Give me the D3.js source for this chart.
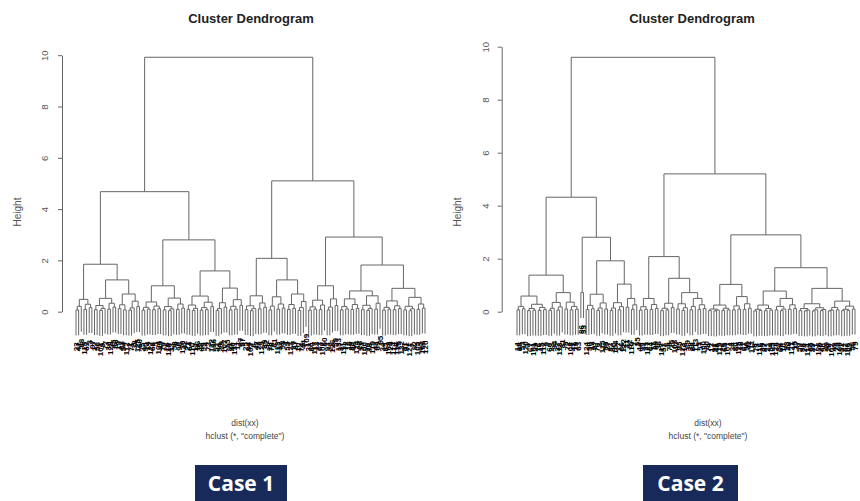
<!DOCTYPE html>
<html><head><meta charset="utf-8">
<script src="https://cdn.jsdelivr.net/npm/d3@7"></script>
<style>
body{margin:0;background:#fff;}
svg{display:block;font-family:"Liberation Sans",Arial,sans-serif;}
</style></head><body>
<svg id="chart" width="860" height="501"></svg>
<script>
// ---------- DATA (node = [mergeHeight, left, right], leaf = observation label) ----------
// Case 1
const case1A1 = [1.85,
  [0.48,[0.21,[0.07,23,41],88],[0.29,[0.09,115,62],[0.16,3,97]]],
  [1.24,
    [0.52,[0.24,[0.08,12,56],[0.13,[0.05,101,9],77]],[0.33,[0.1,30,128],[0.18,45,66]]],
    [0.69,[0.27,[0.12,19,83],[0.07,54,112]],[0.41,[0.15,[0.06,2,71],38],[0.2,125,60]]]]];
const case1A2 = [2.8,
  [1.01,
    [0.38,[0.17,[0.06,35,90],[0.1,14,127]],[0.22,[0.08,68,5],[0.12,104,49]]],
    [0.53,[0.2,[0.07,79,26],[0.11,[0.04,118,33],58]],[0.3,[0.09,8,96],[0.14,130,42]]]],
  [1.59,
    [0.61,[0.26,[0.09,21,64],[0.13,[0.05,110,17],86]],[0.37,[0.16,[0.06,48,99],[0.08,4,73]],[0.2,122,36]]],
    [0.92,[0.35,[0.12,[0.05,52,94],29],[0.18,107,15]],[0.47,[0.21,[0.07,81,40],[0.1,131,11]],[0.25,67,57]]]]];
const case1B1 = [2.08,
  [0.62,[0.23,[0.08,25,84],[0.12,[0.04,103,6],47]],[0.34,[0.11,70,129],[0.17,39,92]]],
  [1.24,
    [0.58,[0.22,[0.07,18,76],61],[0.3,[0.1,113,32],[0.14,98,1]]],
    [0.69,[0.28,[0.09,55,123],[0.13,27,87]],[0.4,[0.16,[0.05,10,74],44],109]]]];
const case1B2 = [2.91,
  [1.01,
    [0.45,[0.19,[0.06,31,80],[0.1,117,13]],[0.26,[0.08,63,102],50]],
    [0.5,[0.18,[0.07,93,22],126],[0.24,59,133]]],
  [1.82,
    [0.81,
      [0.5,[0.2,[0.07,37,111],[0.11,72,16]],[0.28,[0.09,89,46],[0.13,124,28]]],
      [0.62,[0.25,[0.08,53,100],[0.12,[0.05,20,78],119]],[0.33,[0.1,43,69],95]]],
    [0.91,
      [0.42,[0.17,[0.06,34,85],[0.1,108,24]],[0.23,[0.08,114,116],[0.12,75,132]]],
      [0.56,[0.21,[0.07,51,91],[0.11,[0.04,121,7],82]],[0.3,[0.09,105,65],[0.14,106,120]]]]]];
const case1Tree = [9.92, [4.68, case1A1, case1A2], [5.1, case1B1, case1B2]];

// Case 2
const case2P1 = [1.38,
  [0.59,[0.2,[0.07,14,88],[0.11,53,120]],
        [0.28,[0.12,[0.04,3,67],[0.06,101,29]],[0.16,[0.05,76,45],[0.08,112,9]]]],
  [0.72,[0.35,[0.13,[0.05,60,23],94],[0.18,[0.06,37,118],81]],
        [0.36,[0.1,5,72],[0.2,[0.07,108,41],[0.09,19,63]]]]];
const case2P2 = [2.81,
  [0.72,86,33],
  [1.92,
    [0.66,[0.24,[0.08,124,50],[0.11,12,97]],[0.33,[0.14,[0.05,70,2],115],[0.1,58,27]]],
    [1.04,[0.34,[0.14,[0.05,83,40],104],[0.19,[0.07,17,66],122]],
          [0.5,[0.17,31,92],[0.26,[0.09,110,7],55]]]]];
const case2Q1 = [2.08,
  [0.5,[0.19,[0.06,44,99],[0.09,21,127]],[0.27,[0.08,64,11],[0.12,89,36]]],
  [1.26,
    [0.32,[0.13,[0.04,117,52],[0.07,6,78]],[0.16,25,103]],
    [0.72,[0.3,[0.1,47,95],[0.15,[0.05,123,16],69]],
          [0.5,[0.2,[0.07,38,84],113],[0.26,[0.09,1,57],[0.12,100,30]]]]]];
const case2Q2 = [2.9,
  [1.03,
    [0.25,[0.1,[0.04,74,13],[0.06,[0.03,91,48],119]],[0.13,[0.05,26,65],[0.07,107,4]]],
    [0.57,[0.22,[0.07,34,80],[0.1,125,18]],[0.3,[0.08,61,96],[0.13,42,111]]]],
  [1.66,
    [0.78,[0.25,[0.09,[0.03,8,73],[0.05,116,39]],[0.12,[0.04,87,22],[0.06,54,105]]],
          [0.5,[0.2,[0.07,128,32],[0.1,[0.04,68,10],93]],[0.26,[0.09,46,121],[0.12,15,77]]]],
    [0.88,[0.3,[0.12,[0.04,59,98],[0.06,[0.03,24,114],85]],[0.15,[0.07,[0.03,35,71],126],[0.08,[0.04,20,90],49]]],
          [0.4,[0.16,[0.06,[0.03,28,102],43],[0.07,75,109]],[0.21,[0.09,[0.04,51,82],[0.05,106,62]],[0.1,56,79]]]]]];
const case2Tree = [9.6, [4.32, case2P1, case2P2], [5.2, case2Q1, case2Q2]];

const yTicks = [0, 2, 4, 6, 8, 10];
const titles = ["Cluster Dendrogram", "Cluster Dendrogram"];
const subLine1 = ["dist(xx)", "dist(xx)"];
const subLine2 = ['hclust (*, "complete")', 'hclust (*, "complete")'];
const yTitles = ["Height", "Height"];
const caseLabels = ["Case 1", "Case 2"];

// ---------- LAYOUT ----------
const panels = [
  {tree: case1Tree, axisX: 62, yRange: [311.7, 55.2], leafRange: [76, 425], titleX: 251,
   yTitleX: 20.5, tickLabX: 47.5, subX: 245, box: [195, 465, 92, 40]},
  {tree: case2Tree, axisX: 501.7, yRange: [311.7, 46.7], leafRange: [517, 855], titleX: 692,
   yTitleX: 460.5, tickLabX: 488.5, subX: 708, box: [643, 465, 95, 40]}
];

const svg = d3.select("#chart");
const lineCol = "#666";

function buildNode(n) {
  return Array.isArray(n) ? {h: n[0], children: [buildNode(n[1]), buildNode(n[2])]} : {label: String(n)};
}

panels.forEach((cfg, pi) => {
  const g = svg.append("g");
  const root = d3.hierarchy(buildNode(cfg.tree));
  const leaves = root.leaves();
  const x = d3.scaleLinear().domain([0, leaves.length - 1]).range(cfg.leafRange);
  const y = d3.scaleLinear().domain([0, 10]).range(cfg.yRange);
  const hang = 0.1 * root.data.h;
  leaves.forEach((l, i) => { l.px = x(i); l.hh = l.parent.data.h - hang; });
  root.eachAfter(n => {
    if (n.children) { n.px = (n.children[0].px + n.children[1].px) / 2; n.hh = n.data.h; }
  });
  const internals = root.descendants().filter(n => n.children);

  g.append("g").selectAll("path").data(internals).join("path")
    .attr("d", n => {
      const [a, b] = n.children;
      return `M${a.px},${y(a.hh)}V${y(n.hh)}H${b.px}V${y(b.hh)}`;
    })
    .attr("fill", "none").attr("stroke", lineCol).attr("stroke-width", 1);

  g.append("g").selectAll("text").data(leaves).join("text")
    .attr("transform", l => `translate(${l.px + 2.8},${y(l.hh) + 7}) rotate(-90)`)
    .attr("text-anchor", "end").attr("font-size", 8).attr("font-weight", "bold").attr("fill", "#000")
    .text(l => l.data.label);

  const axis = d3.axisLeft(y).tickValues(yTicks).tickSize(4).tickSizeOuter(0).tickFormat(d3.format("d"));
  const ag = g.append("g").attr("transform", `translate(${cfg.axisX},0)`).call(axis);
  ag.select(".domain").attr("stroke", lineCol);
  ag.selectAll(".tick line").attr("stroke", lineCol);
  ag.selectAll(".tick text")
    .attr("x", null).attr("dy", null).attr("y", null)
    .attr("transform", `translate(${cfg.tickLabX - cfg.axisX},0) rotate(-90)`)
    .attr("text-anchor", "middle").attr("font-size", 9.5).attr("fill", "#555")
    .attr("font-family", '"Liberation Sans",Arial,sans-serif');

  g.append("text").attr("transform", `translate(${cfg.yTitleX},212) rotate(-90)`)
    .attr("text-anchor", "middle").attr("font-size", 10).attr("fill", "#555").text(yTitles[pi]);

  g.append("text").attr("x", cfg.titleX).attr("y", 22.5).attr("text-anchor", "middle")
    .attr("font-size", 13).attr("font-weight", "bold").attr("fill", "#222").text(titles[pi]);

  g.append("text").attr("x", cfg.subX).attr("y", 425.5).attr("text-anchor", "middle")
    .attr("font-size", 8.5).attr("fill", "#444").text(subLine1[pi]);
  g.append("text").attr("x", cfg.subX).attr("y", 439).attr("text-anchor", "middle")
    .attr("font-size", 8.5).attr("fill", "#444").text(subLine2[pi]);

  const [bx, by, bw, bh] = cfg.box;
  g.append("rect").attr("x", bx).attr("y", by).attr("width", bw).attr("height", bh).attr("fill", "#182a5a");
  g.append("text").attr("x", bx + bw / 2).attr("y", 491).attr("text-anchor", "middle")
    .attr("font-family", '"Open Sans",sans-serif').attr("font-weight", 700).attr("font-size", 21)
    .attr("fill", "#fff").text(caseLabels[pi]);
});
</script>
</body></html>
